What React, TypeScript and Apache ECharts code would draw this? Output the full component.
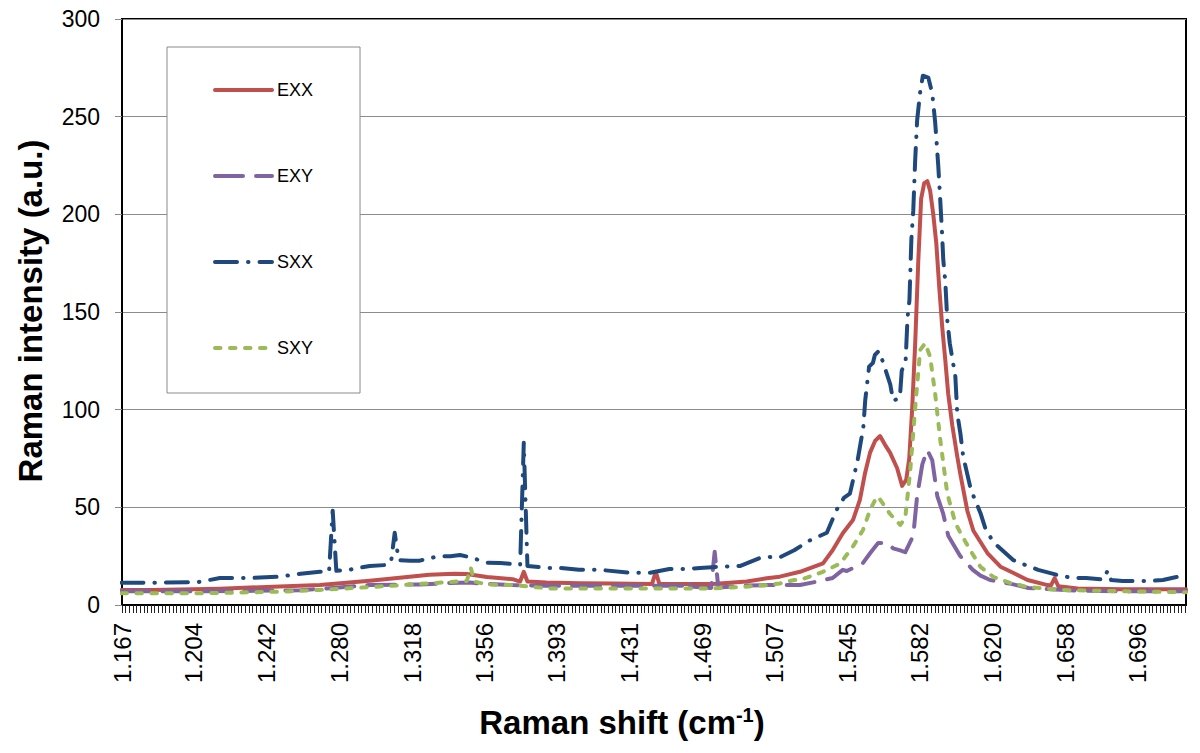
import React, { useEffect, useRef } from "react";
import * as echarts from "echarts";

// Raman shift axis (cm-1)
const X_MIN = 1167;
const X_MAX = 1721;
const X_STEP = 1.8893; // spacing of measured points; one tick mark per point
const X_TICK_LABELS = [1167, 1204, 1242, 1280, 1318, 1356, 1393, 1431, 1469, 1507, 1545, 1582, 1620, 1658, 1696];
const Y_MIN = 0;
const Y_MAX = 300;
const Y_STEP = 50;

const SERIES_NAMES = ["EXX", "EXY", "SXX", "SXY"];

// [Raman shift, intensity]
const EXX: number[][] = [
  [1166.7, 7.7], [1183, 7.7], [1218, 8.3], [1249, 9.5], [1270, 10.2], [1296, 12.4], [1311.6, 14],
  [1327, 15.5], [1340, 16], [1346.5, 15.9], [1357, 14.3], [1370.4, 13.2], [1374.3, 12], [1376.2, 17],
  [1378.1, 12], [1388, 11.5], [1405, 11.1], [1422.5, 11], [1443, 10.8], [1444.9, 17], [1446.8, 10.8],
  [1474.6, 10.8], [1492.3, 12], [1502.7, 13.7], [1509.5, 14.5], [1520, 17], [1532, 21.3], [1537, 28],
  [1542.3, 36.7], [1547.6, 43.5], [1551.2, 53.8], [1553.9, 67.6], [1556.5, 78], [1559.1, 84],
  [1561.7, 86.5], [1564.3, 82], [1566.9, 78], [1570.6, 70], [1573.2, 61], [1575.3, 64], [1576.9, 75],
  [1578.4, 100], [1580, 134], [1581.6, 176], [1583.1, 208], [1584.7, 216], [1586.3, 217], [1587.8, 212],
  [1589.4, 200], [1591, 185], [1592.5, 163], [1594.1, 142], [1595.7, 125], [1597.2, 108], [1599.3, 92],
  [1601.9, 76], [1603.5, 67], [1607.2, 48], [1610.3, 38], [1617.6, 26.6], [1624.4, 19.6], [1631.2, 16.4],
  [1638.5, 12.8], [1648.9, 10.2], [1650.7, 10], [1652.6, 13.8], [1654.5, 9.6], [1664.6, 8.5], [1687, 8],
  [1721, 8],
];

const EXY: number[][] = [
  [1166.7, 7], [1207, 7], [1260, 7.5], [1296, 10.2], [1322, 10.5], [1338, 11.3], [1348, 11.5],
  [1357, 10.8], [1370, 10.2], [1388, 9.9], [1420, 9.9], [1442, 9.9], [1459.2, 9.9], [1461.1, 12.8],
  [1463, 9.5], [1473.7, 8.7], [1475.6, 27.3], [1477.5, 8.9], [1492, 10], [1503, 10.2], [1520, 10.2],
  [1529, 12], [1537, 13.8], [1542.3, 18], [1544.4, 17.4], [1552.8, 21.5], [1556.5, 26.5], [1560.7, 31.7],
  [1565.4, 31.7], [1568.5, 29], [1572.2, 28], [1574.8, 27], [1579, 35.5], [1581, 55.8], [1583.7, 72],
  [1586.3, 79.4], [1588.9, 74], [1591.5, 55.8], [1594.6, 46.6], [1597.2, 35.5], [1603.5, 25], [1610, 18],
  [1614, 15], [1619, 12.8], [1630, 10.8], [1639, 8.7], [1660, 7.5], [1690, 7], [1721, 7],
];

const SXX: number[][] = [
  [1166.7, 11.4], [1183, 11.4], [1207, 11.8], [1218, 13.8], [1233, 13.8], [1249, 14.5], [1260, 16],
  [1270, 17], [1274.8, 17], [1276.7, 48.3], [1278.6, 17.5], [1285, 18], [1296, 20], [1305, 20.5],
  [1307.1, 22], [1309, 37], [1311, 23], [1317, 22.7], [1322, 22.7], [1332, 25], [1338, 25], [1343, 25.6],
  [1348, 24.5], [1357, 21.7], [1364, 21.5], [1370, 21], [1374.3, 20.5], [1376.2, 83], [1378.1, 20],
  [1388, 19], [1395, 19], [1405, 18], [1416, 18], [1431, 16.5], [1442, 16.5], [1452, 18.4], [1461, 18.4],
  [1468, 19], [1478, 19.6], [1489, 20], [1499, 24], [1503, 24.7], [1509, 24.2], [1517, 28], [1525, 33],
  [1534, 37], [1539, 48.6], [1543, 55], [1546, 57], [1550, 74], [1553, 91], [1554, 105], [1556, 122],
  [1558, 124], [1559, 128], [1561, 130], [1563, 125], [1565, 119], [1567, 113], [1568.5, 104.6],
  [1572, 106], [1573, 120], [1575, 124.6], [1576, 147], [1577, 156], [1578, 187], [1579, 202], [1580, 228],
  [1581, 248], [1582.5, 262], [1584, 271], [1586.8, 270], [1588.9, 262], [1590.4, 247], [1591, 239],
  [1592, 225], [1593, 208], [1594, 190], [1594.6, 177], [1595.7, 165], [1596.7, 146], [1598, 134],
  [1600.9, 117], [1601.9, 98], [1603.5, 88], [1605, 76], [1609, 59], [1614, 47], [1616.6, 39],
  [1620.8, 32], [1631, 23], [1636, 21], [1644, 18], [1654, 15.4], [1662, 13.8], [1669, 13.8], [1678, 13],
  [1680.2, 17.6], [1682, 12.8], [1688, 12.3], [1701, 12.3], [1709, 12.8], [1716, 14.3], [1721, 16.4],
];

const SXY: number[][] = [
  [1166.7, 6], [1207, 6], [1249, 6.8], [1270, 7.7], [1305, 9.7], [1332, 11.4], [1346.5, 12.3],
  [1348.6, 19], [1350.5, 12], [1357, 10.5], [1370, 10.2], [1379, 9.4], [1390, 8.5], [1420, 8.5],
  [1460, 8.5], [1474, 8.5], [1492, 9.4], [1503, 10.2], [1509.5, 11], [1517, 12.8], [1520, 12.8],
  [1532, 17], [1541, 21.3], [1547.6, 30], [1552.8, 38.4], [1556.5, 48.6], [1560, 55.5], [1561.7, 54],
  [1566.9, 46.6], [1572.2, 41], [1574.8, 44.5], [1577.4, 68.6], [1580, 101], [1582.6, 130.6],
  [1585.2, 134], [1587.8, 127], [1590.4, 108], [1593, 85], [1596.7, 57], [1600.9, 42], [1603.5, 37],
  [1608.7, 28], [1614, 19.5], [1620.8, 14.3], [1629.6, 11.3], [1638.5, 9.2], [1655.7, 7.7], [1690, 7],
  [1721, 6.5],
];

const FONT = "'Liberation Sans', Arial, Helvetica, sans-serif";

const STYLES: Record<string, { color: string; type: any }> = {
  EXX: { color: "#C0504D", type: "solid" },
  EXY: { color: "#8064A2", type: [28, 13] },
  SXX: { color: "#1F497D", type: [22, 11, 0.5, 11] },
  SXY: { color: "#9BBB59", type: [5.5, 9.5] },
};
const LINE_W = 4;

export default function App() {
  const ref = useRef<HTMLDivElement>(null);

  useEffect(() => {
    if (!ref.current) return;
    const chart = echarts.init(ref.current, null, { renderer: "svg" });

    const tickValues: number[] = [];
    for (let v = X_MIN; v <= X_MAX + 1e-6; v += X_STEP) tickValues.push(Math.round(v * 100) / 100);

    const fmt = (v: number) => {
      const s = String(Math.round(v));
      return s.length > 3 ? s.slice(0, s.length - 3) + "." + s.slice(-3) : s;
    };

    const mk = (name: string, data: number[][]) => ({
      name,
      type: "line",
      data,
      symbol: "none",
      showSymbol: false,
      smooth: false,
      itemStyle: { color: "rgba(0,0,0,0)" },
      lineStyle: {
        color: STYLES[name].color,
        width: LINE_W,
        type: STYLES[name].type,
        cap: "round",
        join: "round",
      },
    });

    chart.setOption({
      animation: false,
      backgroundColor: "#fff",
      textStyle: { fontFamily: FONT },
      grid: {
        left: 122,
        right: 14,
        top: 19,
        bottom: 148,
        show: true,
        borderColor: "#000",
        borderWidth: 2,
        backgroundColor: "transparent",
      },
      legend: {
        orient: "vertical",
        left: 167,
        top: 47,
        padding: [34, 47, 36, 46],
        itemWidth: 57,
        itemHeight: 14,
        itemGap: 68,
        backgroundColor: "#fff",
        borderColor: "#8a8a8a",
        borderWidth: 1,
        borderRadius: 0,
        itemStyle: { opacity: 0 },
        data: SERIES_NAMES.map((n) => ({
          name: n,
          itemStyle: { opacity: 0 },
          lineStyle: { color: STYLES[n].color, width: LINE_W, type: STYLES[n].type, cap: "round" },
        })),
        textStyle: { fontSize: 18, color: "#000", fontFamily: FONT, lineHeight: 14 },
      },
      xAxis: {
        type: "value",
        min: X_MIN,
        max: X_MAX,
        axisLine: { show: true, onZero: false, lineStyle: { color: "#000", width: 2 } },
        axisTick: {
          show: true,
          customValues: tickValues,
          length: 8,
          lineStyle: { color: "#222", width: 1 },
        },
        axisLabel: {
          customValues: X_TICK_LABELS,
          rotate: 90,
          fontSize: 24,
          color: "#000",
          margin: 18,
          fontFamily: FONT,
          formatter: (v: number) => fmt(v),
        },
        splitLine: { show: false },
      },
      yAxis: {
        type: "value",
        min: Y_MIN,
        max: Y_MAX,
        interval: Y_STEP,
        axisLine: { show: true, lineStyle: { color: "#000", width: 2 } },
        axisTick: { show: true, length: 7, lineStyle: { color: "#888", width: 1 } },
        axisLabel: { fontSize: 23, color: "#000", margin: 22, fontFamily: FONT },
        splitLine: { show: true, lineStyle: { color: "#8c8c8c", width: 1 } },
      },
      graphic: [
        {
          type: "text",
          x: 30,
          y: 311,
          rotation: Math.PI / 2,
          style: {
            text: "Raman intensity (a.u.)",
            fontSize: 33,
            fontWeight: "bold",
            fontFamily: FONT,
            fill: "#000",
            align: "center",
            verticalAlign: "middle",
          },
        },
        {
          type: "text",
          x: 622,
          y: 722,
          style: {
            text: "Raman shift (cm{sup|-1})",
            fontSize: 33,
            fontWeight: "bold",
            fontFamily: FONT,
            fill: "#000",
            align: "center",
            verticalAlign: "middle",
            rich: {
              sup: {
                fontSize: 20,
                fontWeight: "bold",
                fontFamily: FONT,
                fill: "#000",
                verticalAlign: "top",
                padding: [0, 0, 14, 0],
              },
            },
          },
        },
      ],
      series: SERIES_NAMES.map((n) =>
        mk(n, n === "EXX" ? EXX : n === "EXY" ? EXY : n === "SXX" ? SXX : SXY)
      ),
    });

    return () => chart.dispose();
  }, []);

  return (
    <div
      ref={ref}
      style={{ position: "fixed", left: 0, top: 0, width: 1200, height: 753, background: "#fff" }}
    />
  );
}
